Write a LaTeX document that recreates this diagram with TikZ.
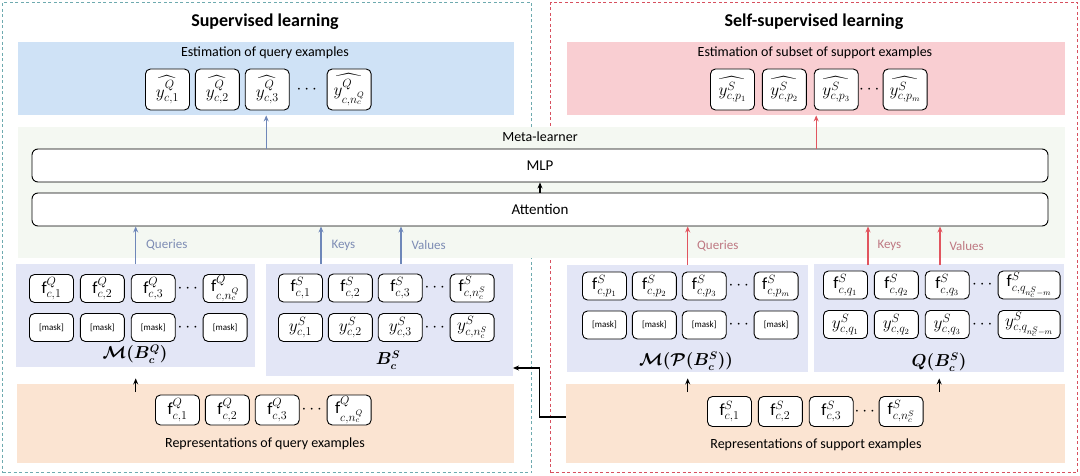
\documentclass[tikz,border=0pt]{standalone}
\usepackage{fontspec}
\setmainfont{Carlito}
\usepackage{amsmath}
\usepackage{bm}
\usetikzlibrary{
    arrows.meta,
    positioning,
    calc
}
\definecolor{bluepanel}{RGB}{207,226,246}
\definecolor{redpanel}{RGB}{249,206,210}
\definecolor{lavpanel}{RGB}{227,230,246}
\definecolor{peachpanel}{RGB}{251,228,210}
\definecolor{metabg}{RGB}{244,248,242}
\definecolor{bluearrow}{RGB}{110,135,185}
\definecolor{redarrow}{RGB}{225,85,95}
\definecolor{bluelabel}{RGB}{125,140,180}
\definecolor{redlabel}{RGB}{190,120,130}
\definecolor{tealdash}{RGB}{110,170,175}
\definecolor{reddash}{RGB}{215,80,95}
\tikzset{
    panel/.style={
        rectangle,
        anchor=north west,
        inner sep=0pt,
        draw=none
    },
    cell/.style={
        draw,
        rectangle,
        rounded corners=5pt,
        minimum width=44pt,
        minimum height=28pt,
        inner sep=0.5pt,
        line width=0.9pt,
        fill=white,
        anchor=west,
        font=\fontsize{17}{19}\selectfont
    },
    tallcell/.style={
        cell,
        minimum height=41pt
    },
    maskcell/.style={
        cell,
        font=\fontsize{9}{10}\selectfont
    },
    dots/.style={
        inner sep=0pt,
        font=\fontsize{16}{18}\selectfont
    },
    lab/.style={
        font=\fontsize{14}{16}\selectfont,
        align=center
    },
    arr/.style={
        -{Stealth[length=6pt,width=5pt]},
        line width=1.2pt
    }
}

\begin{document}
\begin{tikzpicture}[
    x=1pt, y=-1pt,
    title/.style={
        font=\fontsize{18}{20}\selectfont\bfseries
    },
    layer/.style={
        draw,
        rounded corners=6pt,
        minimum width=1016pt,
        minimum height=33pt,
        line width=0.9pt,
        fill=white,
        font=\fontsize{15}{17}\selectfont
    },
    frame/.style={
        panel,
        draw,
        line width=1pt,
        dash pattern=on 3pt off 2.5pt
    },
    setlab/.style={
        font=\fontsize{16}{18}\selectfont
    },
    sidelab/.style={
        font=\fontsize{13}{15}\selectfont,
        anchor=west
    }
]
\fill[white] (0,0) rectangle (1080,476);
\useasboundingbox (0,0) rectangle (1080,476);

\node[frame, draw=tealdash, minimum width=529pt, minimum height=470pt] (supframe) at (2,2) {};
\node[frame, draw=reddash, minimum width=527pt, minimum height=470pt] (selfframe) at (550,2) {};
\node[panel, fill=metabg, minimum width=1047pt, minimum height=131pt] (meta) at (18,127) {};

\node[title] (supt) at (265,22) {Supervised learning};
\node[title] (selft) at (814,22) {Self-supervised learning};

\node[panel, fill=bluepanel, minimum width=496pt, minimum height=73pt] (estq) at (18,42) {};
\node[panel, fill=redpanel, minimum width=498pt, minimum height=73pt] (ests) at (567,42) {};
\node[panel, fill=lavpanel, minimum width=239pt, minimum height=103pt] (mq) at (16,264) {};
\node[panel, fill=lavpanel, minimum width=247pt, minimum height=112pt] (bs) at (266,264) {};
\node[panel, fill=lavpanel, minimum width=241pt, minimum height=107pt] (mp) at (567,265) {};
\node[panel, fill=lavpanel, minimum width=250pt, minimum height=108pt] (qs) at (814,264) {};
\node[panel, fill=peachpanel, minimum width=497pt, minimum height=79pt] (repq) at (17,384) {};
\node[panel, fill=peachpanel, minimum width=499pt, minimum height=79pt] (reps) at (566,384) {};

\node[lab] (estqt) at (265,53) {Estimation of query examples};
\node[tallcell] (yq1) at (145,89.5) {$\widehat{y^{Q}_{c,1}}$};
\node[tallcell, right=5pt of yq1] (yq2) {$\widehat{y^{Q}_{c,2}}$};
\node[tallcell, right=5pt of yq2] (yq3) {$\widehat{y^{Q}_{c,3}}$};
\node[tallcell, right=37pt of yq3] (yq4) {$\widehat{y^{Q}_{c,n_c^Q}}$};
\node[dots] (yqd) at ($(yq3.east)!0.5!(yq4.west)$) {$\cdots$};

\node[lab] (estst) at (815,53) {Estimation of subset of support examples};
\node[tallcell] (ys1) at (710,89.5) {$\widehat{y^{S}_{c,p_1}}$};
\node[tallcell, right=7pt of ys1] (ys2) {$\widehat{y^{S}_{c,p_2}}$};
\node[tallcell, right=7pt of ys2] (ys3) {$\widehat{y^{S}_{c,p_3}}$};
\node[tallcell, right=24pt of ys3] (ys4) {$\widehat{y^{S}_{c,p_m}}$};
\node[dots] (ysd) at ($(ys3.east)!0.5!(ys4.west)$) {$\cdots$};

\node[lab] (metat) at (540,137) {Meta-learner};
\node[layer] (mlp) at (540,165.5) {MLP};
\node[layer] (attn) at (540,209.5) {Attention};

\node[cell] (fq1) at (29,288.5) {$\mathrm{f}^{Q}_{c,1}$};
\node[cell, right=6pt of fq1] (fq2) {$\mathrm{f}^{Q}_{c,2}$};
\node[cell, right=6pt of fq2] (fq3) {$\mathrm{f}^{Q}_{c,3}$};
\node[cell, right=27pt of fq3] (fq4) {$\mathrm{f}^{Q}_{c,n_c^Q}$};
\node[dots] (fqd) at ($(fq3.east)!0.5!(fq4.west)$) {$\cdots$};
\node[maskcell] (mk1) at (29,327.5) {[mask]};
\node[maskcell, right=6pt of mk1] (mk2) {[mask]};
\node[maskcell, right=6pt of mk2] (mk3) {[mask]};
\node[maskcell, right=27pt of mk3] (mk4) {[mask]};
\node[dots] (mkd) at ($(mk3.east)!0.5!(mk4.west)$) {$\cdots$};
\node[setlab] (mqt) at (135,354) {$\bm{\mathcal{M}(B_c^{Q})}$};

\node[cell] (fs1) at (278,288) {$\mathrm{f}^{S}_{c,1}$};
\node[cell, right=5pt of fs1] (fs2) {$\mathrm{f}^{S}_{c,2}$};
\node[cell, right=5pt of fs2] (fs3) {$\mathrm{f}^{S}_{c,3}$};
\node[cell, right=27pt of fs3] (fs4) {$\mathrm{f}^{S}_{c,n_c^S}$};
\node[dots] (fsd) at ($(fs3.east)!0.5!(fs4.west)$) {$\cdots$};
\node[cell] (ysb1) at (278,327.5) {$y^{S}_{c,1}$};
\node[cell, right=5pt of ysb1] (ysb2) {$y^{S}_{c,2}$};
\node[cell, right=5pt of ysb2] (ysb3) {$y^{S}_{c,3}$};
\node[cell, right=27pt of ysb3] (ysb4) {$y^{S}_{c,n_c^S}$};
\node[dots] (ysbd) at ($(ysb3.east)!0.5!(ysb4.west)$) {$\cdots$};
\node[setlab] (bst) at (388,360) {$\bm{B_c^{S}}$};

\node[cell] (fp1) at (582,286) {$\mathrm{f}^{S}_{c,p_1}$};
\node[cell, right=5pt of fp1] (fp2) {$\mathrm{f}^{S}_{c,p_2}$};
\node[cell, right=5pt of fp2] (fp3) {$\mathrm{f}^{S}_{c,p_3}$};
\node[cell, right=27pt of fp3] (fp4) {$\mathrm{f}^{S}_{c,p_m}$};
\node[dots] (fpd) at ($(fp3.east)!0.5!(fp4.west)$) {$\cdots$};
\node[maskcell] (mkp1) at (582,325) {[mask]};
\node[maskcell, right=5pt of mkp1] (mkp2) {[mask]};
\node[maskcell, right=5pt of mkp2] (mkp3) {[mask]};
\node[maskcell, right=27pt of mkp3] (mkp4) {[mask]};
\node[dots] (mkpd) at ($(mkp3.east)!0.5!(mkp4.west)$) {$\cdots$};
\node[setlab] (mpt) at (686,361) {$\bm{\mathcal{M}(\mathcal{P}(B_c^{S}))}$};

\node[cell] (fqq1) at (823,285) {$\mathrm{f}^{S}_{c,q_1}$};
\node[cell, right=6pt of fqq1] (fqq2) {$\mathrm{f}^{S}_{c,q_2}$};
\node[cell, right=6pt of fqq2] (fqq3) {$\mathrm{f}^{S}_{c,q_3}$};
\node[cell, right=28pt of fqq3, minimum width=62pt] (fqq4) {$\mathrm{f}^{S}_{c,q_{n_c^S-m}}$};
\node[dots] (fqqd) at ($(fqq3.east)!0.5!(fqq4.west)$) {$\cdots$};
\node[cell] (yqq1) at (823,324.5) {$y^{S}_{c,q_1}$};
\node[cell, right=6pt of yqq1] (yqq2) {$y^{S}_{c,q_2}$};
\node[cell, right=6pt of yqq2] (yqq3) {$y^{S}_{c,q_3}$};
\node[cell, right=28pt of yqq3, minimum width=62pt] (yqq4) {$y^{S}_{c,q_{n_c^S-m}}$};
\node[dots] (yqqd) at ($(yqq3.east)!0.5!(yqq4.west)$) {$\cdots$};
\node[setlab] (qst) at (939,362) {$\bm{Q(B_c^{S})}$};

\node[cell, minimum height=30pt] (rq1) at (155,410) {$\mathrm{f}^{Q}_{c,1}$};
\node[cell, minimum height=30pt, right=5pt of rq1] (rq2) {$\mathrm{f}^{Q}_{c,2}$};
\node[cell, minimum height=30pt, right=5pt of rq2] (rq3) {$\mathrm{f}^{Q}_{c,3}$};
\node[cell, minimum height=30pt, right=27pt of rq3] (rq4) {$\mathrm{f}^{Q}_{c,n_c^Q}$};
\node[dots] (rqd) at ($(rq3.east)!0.5!(rq4.west)$) {$\cdots$};
\node[lab] (repqt) at (265,444) {Representations of query examples};

\node[cell, minimum height=30pt] (rs1) at (707,411.5) {$\mathrm{f}^{S}_{c,1}$};
\node[cell, minimum height=30pt, right=6pt of rs1] (rs2) {$\mathrm{f}^{S}_{c,2}$};
\node[cell, minimum height=30pt, right=6pt of rs2] (rs3) {$\mathrm{f}^{S}_{c,3}$};
\node[cell, minimum height=30pt, right=25pt of rs3] (rs4) {$\mathrm{f}^{S}_{c,n_c^S}$};
\node[dots] (rsd) at ($(rs3.east)!0.5!(rs4.west)$) {$\cdots$};
\node[lab] (repst) at (816,445) {Representations of support examples};

\coordinate (keyl) at (321,264);
\coordinate (vall) at (401,264);
\coordinate (keyr) at (868,265);
\coordinate (valr) at (940,265);
\coordinate (qin) at (mq.south |- repq.north);
\coordinate (pin) at (mp.south |- reps.north);
\coordinate (sin) at (qs.south |- reps.north);
\coordinate (supout) at (566,417);
\coordinate (bsin) at (513,368);

\draw[arr, bluearrow] (mlp.north -| estq.south) -- (estq.south);
\draw[arr, redarrow] (mlp.north -| ests.south) -- (ests.south);
\draw[arr] (attn.north) -- (mlp.south);

\draw[arr, bluearrow] (mq.north) -- (mq.north |- attn.south);
\draw[arr, bluearrow] (keyl) -- (keyl |- attn.south);
\draw[arr, bluearrow] (vall) -- (vall |- attn.south);
\draw[arr, redarrow] (mp.north) -- (mp.north |- attn.south);
\draw[arr, redarrow] (keyr) -- (keyr |- attn.south);
\draw[arr, redarrow] (valr) -- (valr |- attn.south);

\node[sidelab, text=bluelabel, right=7pt] (qlabl) at ($(mq.north)!0.5!(mq.north |- attn.south)$) {Queries};
\node[sidelab, text=bluelabel, right=7pt] (klabl) at ($(keyl)!0.5!(keyl |- attn.south)$) {Keys};
\node[sidelab, text=bluelabel, right=7pt] (vlabl) at ($(vall)!0.5!(vall |- attn.south)$) {Values};
\node[sidelab, text=redlabel, right=6pt] (qlabr) at ($(mp.north)!0.5!(mp.north |- attn.south)$) {Queries};
\node[sidelab, text=redlabel, right=6pt] (klabr) at ($(keyr)!0.5!(keyr |- attn.south)$) {Keys};
\node[sidelab, text=redlabel, right=6pt] (vlabr) at ($(valr)!0.5!(valr |- attn.south)$) {Values};

\draw[arr] ([yshift=-8pt]qin) -- ([yshift=-11pt]mq.south);
\draw[arr] ([yshift=-8pt]pin) -- ([yshift=-6pt]mp.south);
\draw[arr] ([yshift=-8pt]sin) -- ([yshift=-6pt]qs.south);
\draw[arr] (supout) -| ($(bsin)!0.5!(supout)$) |- (bsin);

\end{tikzpicture}
\end{document}
